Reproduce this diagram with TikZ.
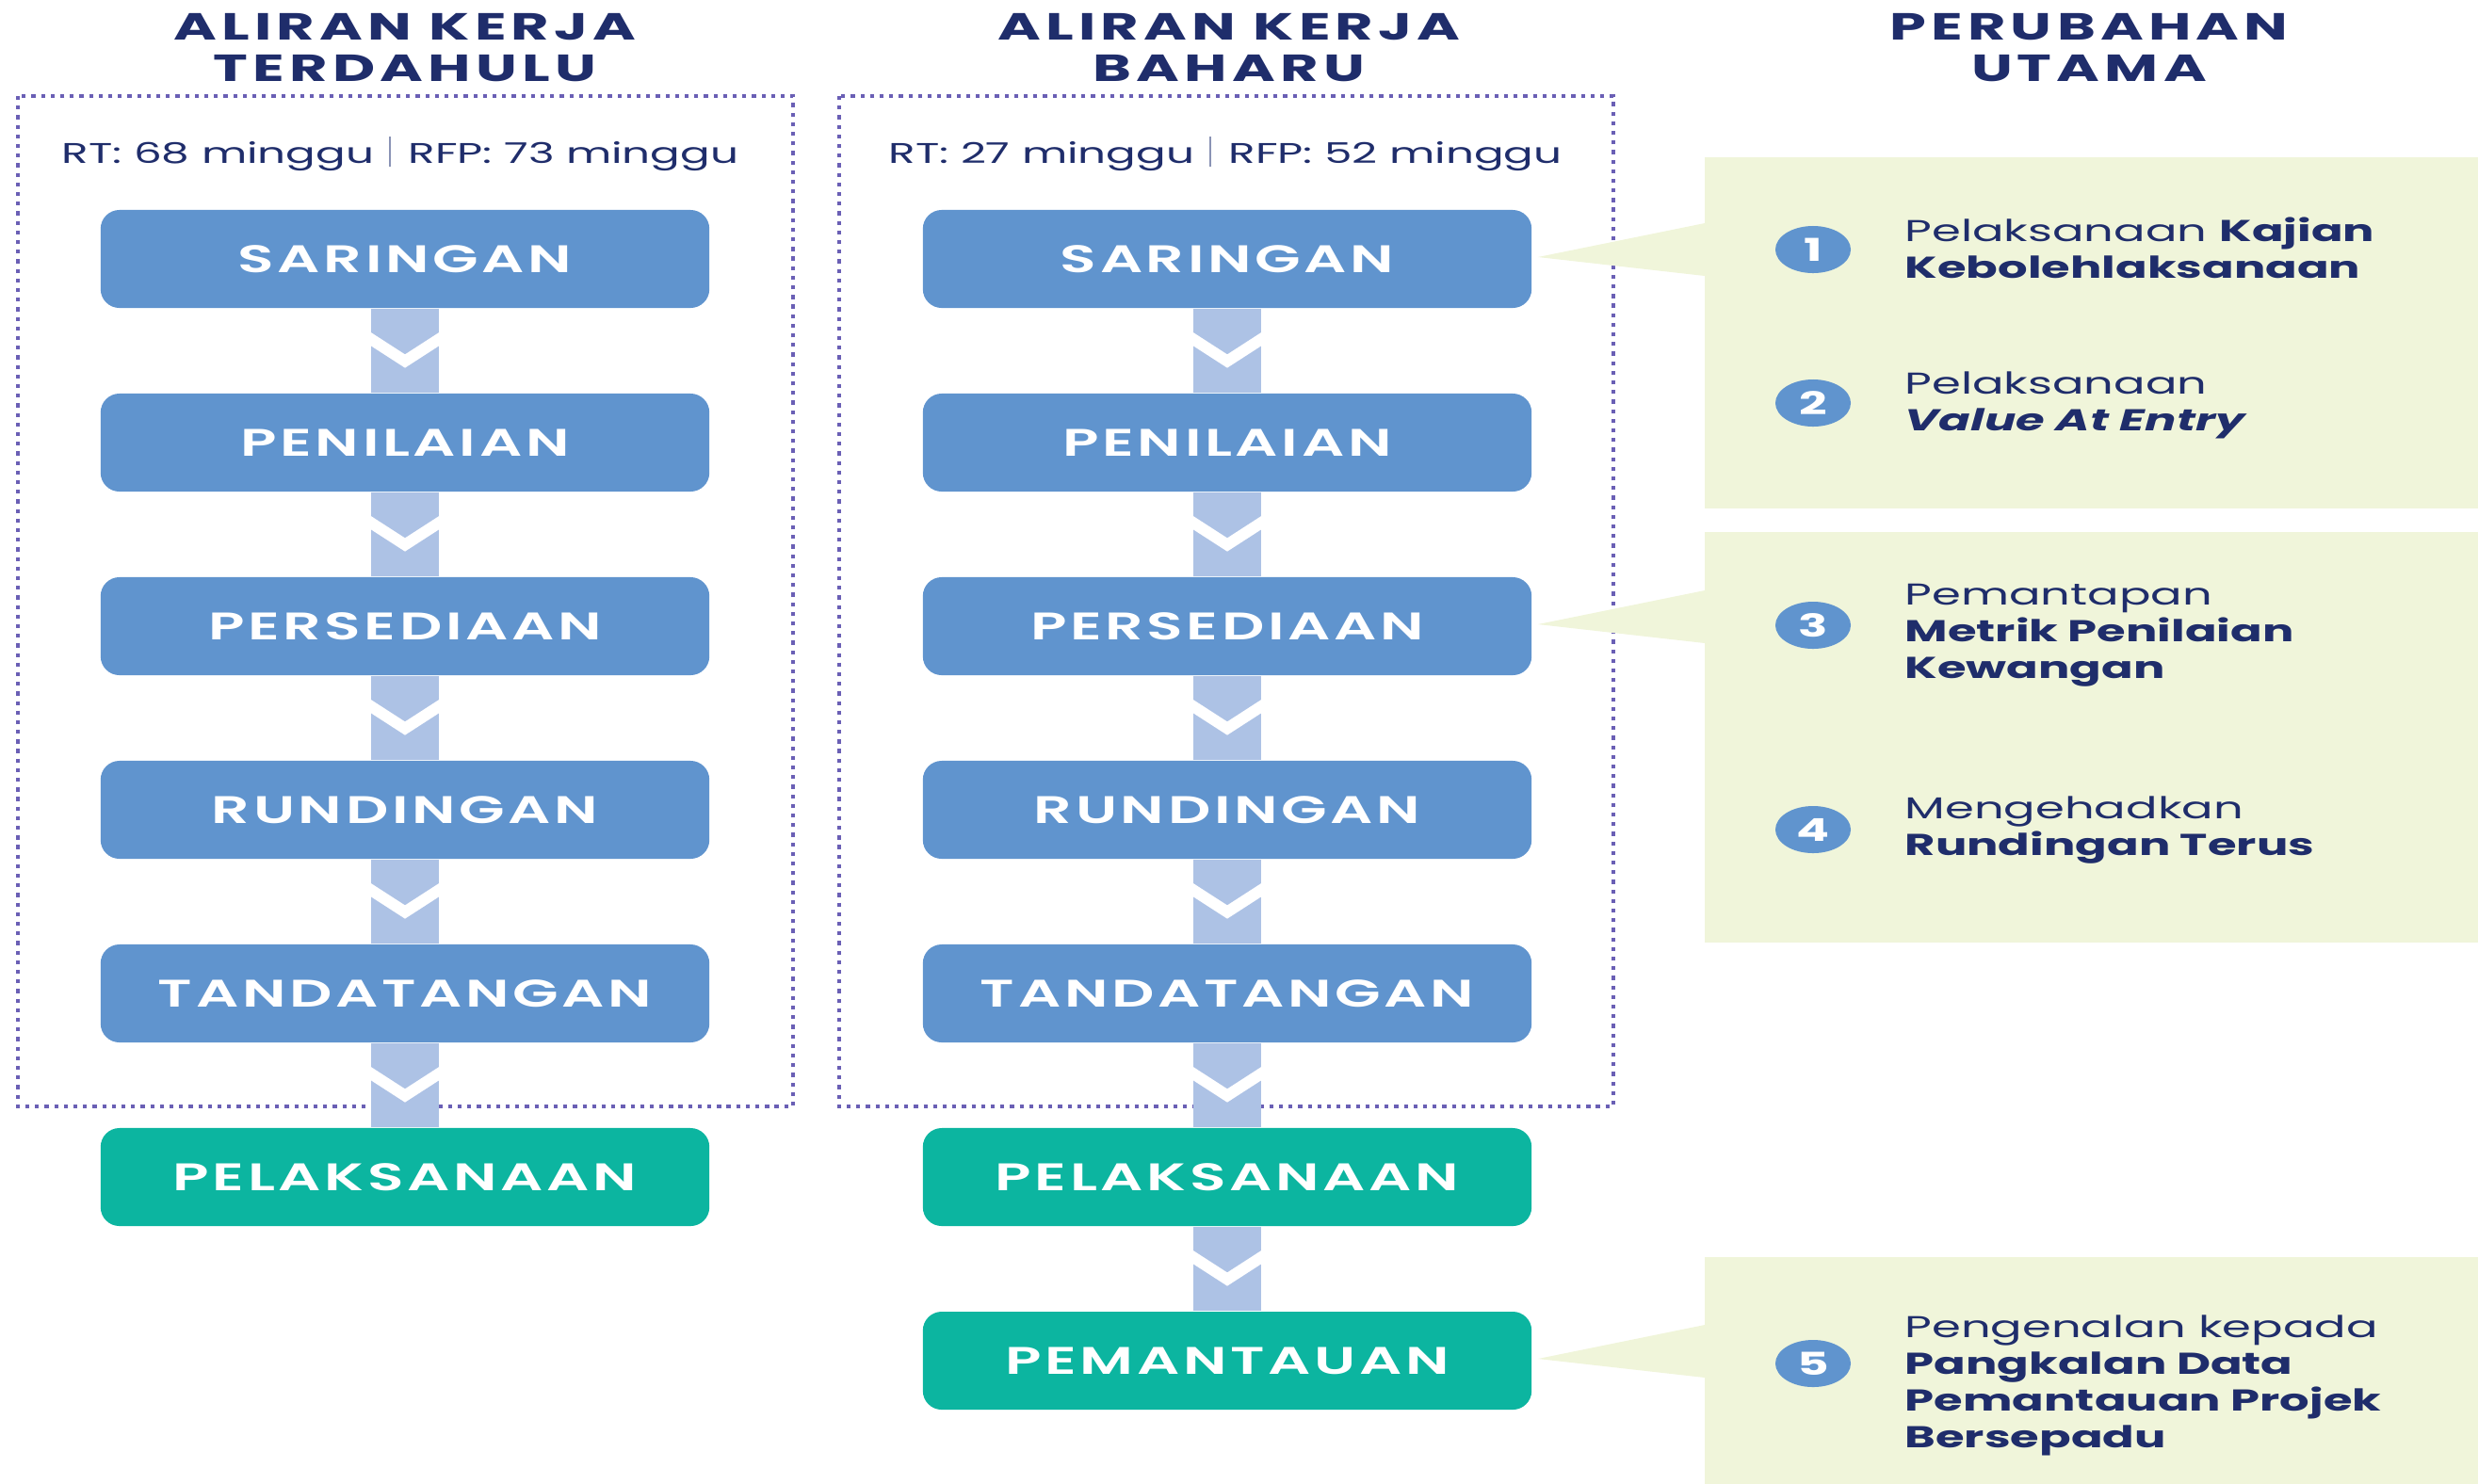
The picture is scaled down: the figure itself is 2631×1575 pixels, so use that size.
\documentclass[tikz,border=0pt]{standalone}
\usepackage{fontspec}
\usepackage{xcolor}
\usepackage{tikz}
\usetikzlibrary{calc,shapes.geometric}
\setmainfont{Poppins}[FakeStretch=1.55]
\newfontfamily\headfont{Poppins}[FakeStretch=1.55,LetterSpace=13]
\newfontfamily\stepfont{Poppins SemiBold}[FakeStretch=1.55,LetterSpace=9]
\definecolor{stepblue}{HTML}{6094CE}
\definecolor{stepgreen}{HTML}{0CB5A0}
\definecolor{barblue}{HTML}{ADC2E5}
\definecolor{panelgreen}{HTML}{F0F5DA}
\definecolor{framepurple}{HTML}{6A5FB5}
\definecolor{inknavy}{HTML}{1F2D6B}
\definecolor{sepgrey}{HTML}{8A93B5}

\begin{document}
\begin{tikzpicture}[x=0.01cm,y=-0.01cm,
  head/.style={font=\headfont\bfseries\fontsize{11.4}{12.5}\selectfont, text=inknavy, align=center, inner sep=0pt},
  weeks/.style={font=\fontsize{8.6}{10}\selectfont, text=inknavy, inner sep=0pt},
  stepbox/.style={rectangle, rounded corners=0.2cm, fill=stepblue, text=white, minimum width=6.46cm, minimum height=1.04cm, inner sep=0pt, font=\stepfont\fontsize{11.6}{12}\selectfont},
  endbox/.style={stepbox, fill=stepgreen},
  flowbar/.style={draw=barblue, line width=0.72cm},
  chevron/.style={draw=white, line width=0.12cm},
  frame/.style={draw=framepurple, line width=0.9pt, dash pattern=on 1.2pt off 1.7pt},
  sepline/.style={draw=sepgrey, line width=0.5pt},
  panel/.style={fill=panelgreen, inner sep=0pt, anchor=north west, minimum width=8.22cm},
  badge/.style={ellipse, fill=stepblue, text=white, minimum width=0.8cm, minimum height=0.5cm, inner sep=0pt, font=\bfseries\fontsize{9.5}{9.5}\selectfont},
  note/.style={anchor=west, align=left, inner sep=0pt, text=inknavy, font=\fontsize{9.1}{11.1}\selectfont}]
  \useasboundingbox (0,0) rectangle (2631,1575);

  % Headings
  \node[head] (hold) at (430,51) {ALIRAN KERJA\\TERDAHULU};
  \node[head] (hnew) at (1305,51) {ALIRAN KERJA\\BAHARU};
  \node[head] (hkey) at (2218,51) {PERUBAHAN\\UTAMA};

  % Frames
  \draw[frame] (19,102) rectangle (842,1175);
  \draw[frame] (891,102) rectangle (1713,1175);

  % Durations
  \node[weeks, anchor=base east] (rtold) at (398,173) {RT: 68 minggu};
  \node[weeks, anchor=base west] (rfpold) at (433,173) {RFP: 73 minggu};
  \draw[sepline] (414,145) -- (414,177);
  \node[weeks, anchor=base east] (rtnew) at (1269,173) {RT: 27 minggu};
  \node[weeks, anchor=base west] (rfpnew) at (1304,173) {RFP: 52 minggu};
  \draw[sepline] (1285,145) -- (1285,177);

  % Steps
  \foreach \i/\txt in {1/SARINGAN,2/PENILAIAN,3/PERSEDIAAN,4/RUNDINGAN,5/TANDATANGAN} {
    \node[stepbox] (o\i) at (430,80+\i*195) {\txt};
    \node[stepbox] (n\i) at (1303,80+\i*195) {\txt};
  }
  \node[endbox] (o6) at (430,1250) {PELAKSANAAN};
  \node[endbox] (n6) at (1303,1250) {PELAKSANAAN};
  \node[endbox] (n7) at (1303,1445) {PEMANTAUAN};

  % Links
  \foreach \a/\b in {o1/o2,o2/o3,o3/o4,o4/o5,o5/o6,n1/n2,n2/n3,n3/n4,n4/n5,n5/n6,n6/n7} {
    \draw[flowbar] (\a.south) -- (\b.north);
    \coordinate (m) at ($(\a.south)!0.5!(\b.north)$);
    \draw[chevron] ($(m)+(-48,-20)$) -- ($(m)+(0,11)$) -- ($(m)+(48,-20)$);
  }

  % Key changes
  \node[panel, minimum height=3.73cm] (pan1) at (1809,166) {};
  \node[panel, minimum height=4.36cm] (pan2) at (1809,564) {};
  \node[panel, minimum height=2.41cm] (pan3) at (1809,1334) {};
  \foreach \s/\p in {n1/pan1,n3/pan2,n7/pan3} {
    \fill[panelgreen] ($(\s.east)+(6,-2)$) -- ($(\s.east -| \p.west)+(1,-38)$) -- ($(\s.east -| \p.west)+(1,18)$) -- cycle;
  }
  \node[badge] (b1) at (1925,265) {1};
  \node[badge] (b2) at (1925,428) {2};
  \node[badge] (b3) at (1925,664) {3};
  \node[badge] (b4) at (1925,881) {4};
  \node[badge] (b5) at (1925,1448) {5};
  \node[note] (t1) at (2022,263) {Pelaksanaan \textbf{Kajian}\\\textbf{Kebolehlaksanaan}};
  \node[note] (t2) at (2022,430) {Pelaksanaan\\\textbf{\textit{Value At Entry}}};
  \node[note] (t3) at (2022,675) {Pemantapan\\\textbf{Metrik Penilaian}\\\textbf{Kewangan}};
  \node[note] (t4) at (2022,882) {Mengehadkan\\\textbf{Rundingan Terus}};
  \node[note] (t5) at (2022,1471) {Pengenalan kepada\\\textbf{Pangkalan Data}\\\textbf{Pemantauan Projek}\\\textbf{Bersepadu}};
\end{tikzpicture}
\end{document}
